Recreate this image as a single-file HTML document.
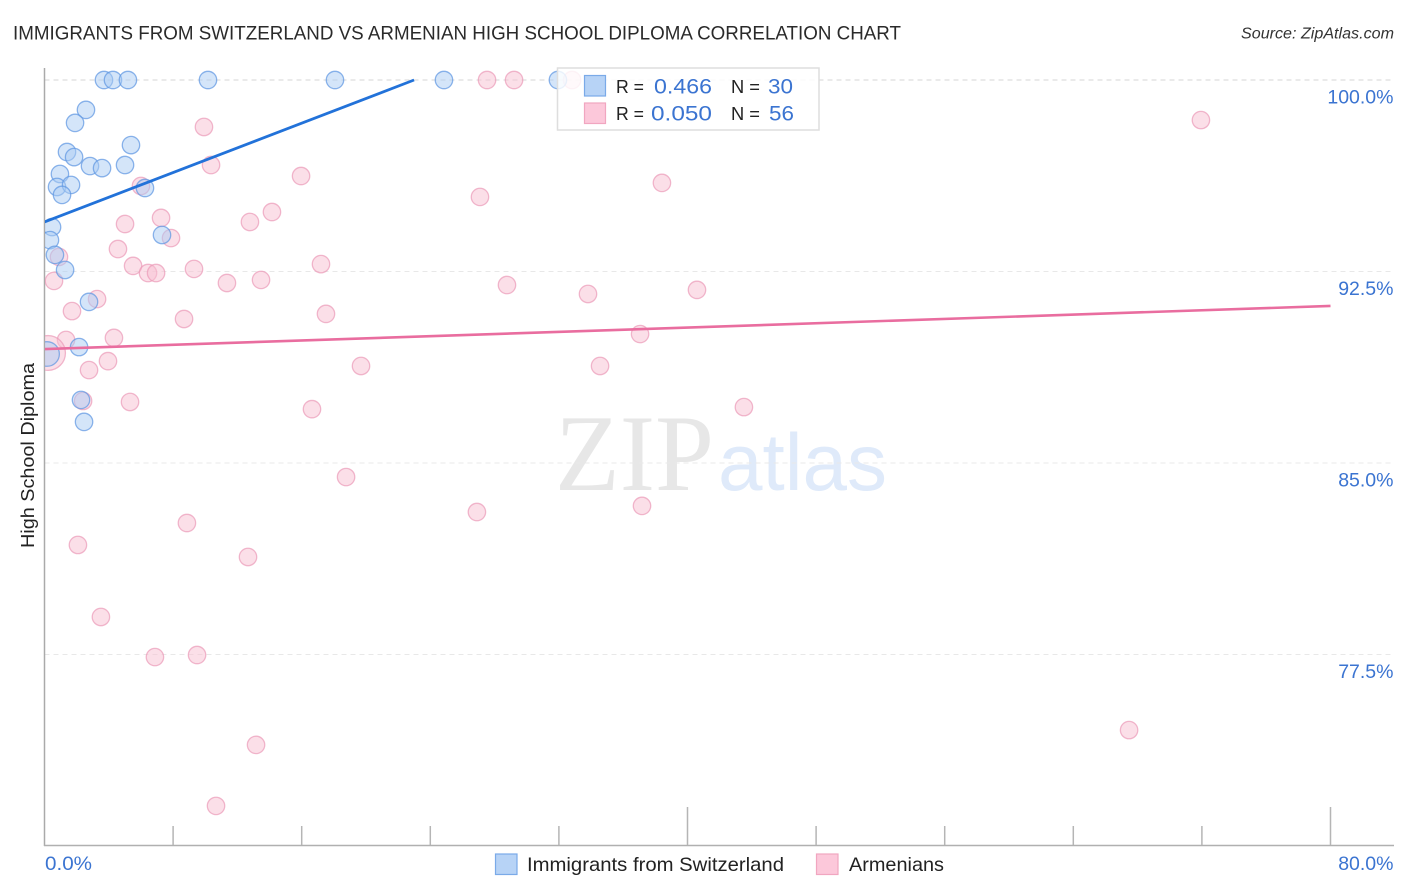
<!DOCTYPE html>
<html lang="en">
<head>
<meta charset="utf-8">
<title>Immigrants from Switzerland vs Armenian High School Diploma Correlation Chart</title>
<style>
html,body{margin:0;padding:0;background:#fff;width:1406px;height:892px;overflow:hidden}
svg{display:block;font-family:"Liberation Sans",sans-serif}
</style>
</head>
<body>
<svg id="chart" width="1406" height="892" viewBox="0 0 1406 892" xmlns="http://www.w3.org/2000/svg">
  <defs>
    <clipPath id="plot-clip"><rect x="45" y="60" width="1350" height="785"/></clipPath>
  </defs>
  <text x="13" y="39.5" font-size="19.5" fill="#2a2a2a" textLength="888" lengthAdjust="spacingAndGlyphs">IMMIGRANTS FROM SWITZERLAND VS ARMENIAN HIGH SCHOOL DIPLOMA CORRELATION CHART</text>
  <text x="1241" y="38.5" font-size="15.5" font-style="italic" fill="#333" textLength="153" lengthAdjust="spacingAndGlyphs">Source: ZipAtlas.com</text>

  <g>
    <text x="555" y="490" font-family="'Liberation Serif',serif" font-size="109" fill="#e7e7e7" textLength="159" lengthAdjust="spacingAndGlyphs">ZIP</text>
    <text x="718" y="490" font-size="81" fill="#dfeafa" textLength="169" lengthAdjust="spacingAndGlyphs">atlas</text>
  </g>

  <g id="grid"></g>
  <g id="axes"></g>
  <g id="marks" clip-path="url(#plot-clip)"></g>
  <g id="labels"></g>

  <g>
    <rect x="557.5" y="68" width="261.5" height="62" fill="#fff" fill-opacity="0.82" stroke="#dedede" stroke-width="1.5"/>
    <rect x="584.5" y="75.5" width="21" height="20.5" fill="#b7d3f6" stroke="#7aaae8" stroke-width="1.2"/>
    <rect x="584.5" y="103" width="21" height="20.5" fill="#fcc8da" stroke="#f1a6c0" stroke-width="1.2"/>
    <text x="616" y="93" font-size="18.5" fill="#222" textLength="28" lengthAdjust="spacingAndGlyphs">R =</text>
    <text x="654" y="93.5" font-size="21.5" fill="#3b74d1" textLength="58" lengthAdjust="spacingAndGlyphs">0.466</text>
    <text x="731" y="93" font-size="18.5" fill="#222" textLength="29" lengthAdjust="spacingAndGlyphs">N =</text>
    <text x="768" y="93.5" font-size="21.5" fill="#3b74d1" textLength="25" lengthAdjust="spacingAndGlyphs">30</text>
    <text x="616" y="120" font-size="18.5" fill="#222" textLength="28" lengthAdjust="spacingAndGlyphs">R =</text>
    <text x="651" y="120.5" font-size="21.5" fill="#3b74d1" textLength="61" lengthAdjust="spacingAndGlyphs">0.050</text>
    <text x="731" y="120" font-size="18.5" fill="#222" textLength="29" lengthAdjust="spacingAndGlyphs">N =</text>
    <text x="769" y="120.5" font-size="21.5" fill="#3b74d1" textLength="25" lengthAdjust="spacingAndGlyphs">56</text>
  </g>

  <text transform="translate(34 548) rotate(-90)" font-size="18.5" fill="#222" textLength="185" lengthAdjust="spacingAndGlyphs">High School Diploma</text>

  <g>
    <g>
      <rect x="495.5" y="854" width="21.5" height="20.5" fill="#b7d3f6" stroke="#7aaae8" stroke-width="1.2"/>
      <text x="527" y="871" font-size="19.5" fill="#222" textLength="257" lengthAdjust="spacingAndGlyphs">Immigrants from Switzerland</text>
    </g>
    <g>
      <rect x="816.5" y="854" width="21.5" height="20.5" fill="#fcc8da" stroke="#f1a6c0" stroke-width="1.2"/>
      <text x="849" y="871" font-size="19.5" fill="#222" textLength="95" lengthAdjust="spacingAndGlyphs">Armenians</text>
    </g>
  </g>
</svg>
<script>
const yTickValues = [100, 92.5, 85, 77.5];
const yTickLabels = ["100.0%", "92.5%", "85.0%", "77.5%"];
const xTickValues = [0, 8, 16, 24, 32, 40, 48, 56, 64, 72, 80];
const xMajorTickValues = [40, 80];
const xEndLabels = ["0.0%", "80.0%"];

const blueX = [3.70,4.26,5.19,10.17,18.07,24.85,31.94,2.58,1.90,5.38,1.40,1.84,2.83,3.58,5.01,0.96,0.78,1.65,1.09,6.25,0.47,0.34,0.65,1.28,7.31,2.77,2.15,0.16,2.27,2.46];
const blueY = [100,100,100,100,100,100,100,98.83,98.32,97.45,97.18,96.98,96.63,96.55,96.67,96.32,95.81,95.89,95.50,95.77,94.24,93.73,93.15,92.56,93.93,91.31,89.54,89.27,87.47,86.61];
const blueCounts = [1,1,1,1,1,1,1,1,1,1,1,1,1,1,1,1,1,1,1,1,1,1,1,1,1,1,1,2,1,1];

const pinkX = [27.53,29.21,32.82,71.94,9.92,10.36,15.96,38.41,6.00,27.09,14.15,7.25,12.78,5.01,7.87,4.57,0.90,17.20,5.51,9.30,6.44,6.94,0.59,11.35,13.47,28.77,33.81,40.59,3.27,1.71,17.51,8.68,37.05,1.34,4.32,0.22,3.95,2.77,19.69,34.56,2.40,5.32,16.64,43.51,18.76,26.90,37.17,8.86,2.08,12.66,3.51,6.87,9.49,67.47,13.16,10.67];
const pinkY = [100,100,100,98.43,98.16,96.67,96.24,95.97,95.85,95.42,94.83,94.60,94.44,94.36,93.81,93.38,93.07,92.79,92.72,92.60,92.44,92.44,92.13,92.05,92.17,91.97,91.62,91.78,91.42,90.95,90.84,90.64,90.05,89.82,89.90,89.31,88.99,88.64,88.80,88.80,87.43,87.39,87.11,87.19,84.45,83.08,83.32,82.65,81.79,81.32,78.97,77.40,77.48,74.54,73.96,71.57];
const pinkCounts = [1,1,1,1,1,1,1,1,1,1,1,1,1,1,1,1,1,1,1,1,1,1,1,1,1,1,1,1,1,1,1,1,1,1,1,4,1,1,1,1,1,1,1,1,1,1,1,1,1,1,1,1,1,1,1,1];

const blueTrendX = [0, 22.99];
const blueTrendY = [94.44, 100];
const pinkTrendX = [0, 80];
const pinkTrendY = [89.46, 91.15];

const SVG_NS = "http://www.w3.org/2000/svg";
function xScale(v) { return 44.5 + v * (1330.5 - 44.5) / 80; }
function yScale(v) { return 80 + (100 - v) * (654.5 - 80) / 22.5; }
function radius(n) { return 8.7 * Math.sqrt(n); }
function make(tag, attrs, parent) {
  const el = document.createElementNS(SVG_NS, tag);
  for (const k in attrs) el.setAttribute(k, attrs[k]);
  parent.appendChild(el);
  return el;
}

const grid = document.getElementById("grid");
const axes = document.getElementById("axes");
const marks = document.getElementById("marks");
const labels = document.getElementById("labels");

yTickValues.forEach(function (v, i) {
  const line = make("line", {x1: 44.5, x2: 1393, y1: yScale(v), y2: yScale(v), stroke: i === 0 ? "#d6d6d6" : "#e8e8e8", "stroke-width": 1, "stroke-dasharray": "5 4"}, grid);
  
  
  const t = make("text", {x: 1393.5, y: yScale(v) + 23.5, "text-anchor": "end", "font-size": 19.5, fill: "#3b74d1"}, labels);
  
  
  t.textContent = yTickLabels[i];
});

const yAxis = make("line", {x1: 44.5, x2: 44.5, y1: 68, y2: 846, stroke: "#aaaaaa", "stroke-width": 1.5}, axes);


const xAxis = make("line", {x1: 44, x2: 1394, y1: 845.5, y2: 845.5, stroke: "#b0b0b0", "stroke-width": 1.5}, axes);



xTickValues.forEach(function (v) {
  if (v === 0) return;
  const major = xMajorTickValues.indexOf(v) >= 0;
  const tick = make("line", {x1: xScale(v), x2: xScale(v), y1: major ? 807 : 826, y2: 845, stroke: "#b5b5b5", "stroke-width": 1.5}, axes);
  
  
});

const xLabelLeft = make("text", {x: 45, y: 870, "font-size": 19.5, fill: "#3b74d1", textLength: 47, lengthAdjust: "spacingAndGlyphs"}, labels);


xLabelLeft.textContent = xEndLabels[0];
const xLabelRight = make("text", {x: 1393.5, y: 870, "text-anchor": "end", "font-size": 19.5, fill: "#3b74d1"}, labels);


xLabelRight.textContent = xEndLabels[1];

pinkX.forEach(function (v, i) {
  const c = make("circle", {cx: xScale(v), cy: yScale(pinkY[i]), r: radius(pinkCounts[i]), fill: "#f8bfd2", "fill-opacity": 0.5, stroke: "#eb9ab8", "stroke-opacity": 0.7, "stroke-width": 1.3}, marks);
  
  
});
blueX.forEach(function (v, i) {
  const c = make("circle", {cx: xScale(v), cy: yScale(blueY[i]), r: radius(blueCounts[i]), fill: "#a9ccf4", "fill-opacity": 0.5, stroke: "#5f97e2", "stroke-opacity": 0.72, "stroke-width": 1.3}, marks);
  
  
});

const pinkTrend = make("line", {x1: xScale(pinkTrendX[0]), y1: yScale(pinkTrendY[0]), x2: xScale(pinkTrendX[1]), y2: yScale(pinkTrendY[1]), stroke: "#e96d9f", "stroke-width": 2.6}, marks);


const blueTrend = make("line", {x1: xScale(blueTrendX[0]), y1: yScale(blueTrendY[0]), x2: xScale(blueTrendX[1]), y2: yScale(blueTrendY[1]), stroke: "#2272d9", "stroke-width": 2.8}, marks);


</script>
</body>
</html>
